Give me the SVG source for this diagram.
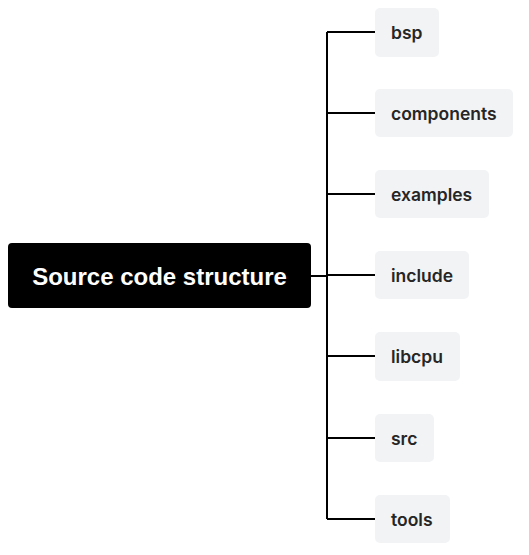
<svg xmlns="http://www.w3.org/2000/svg" width="529" height="555" viewBox="0 0 529 555">
<style>
.leaf rect{fill:#f2f3f5;}
.leaf text{font-family:Inter,"Liberation Sans",sans-serif;font-weight:600;font-size:17.5px;fill:#262626;dominant-baseline:central;}
.conn path{stroke:#000;stroke-width:2;fill:none;}
</style>
<rect width="529" height="555" fill="#fff"/>
<g class="conn">
<path d="M311 276H327M327 32V519M327 32H375M327 113H375M327 194H375M327 275H375M327 356H375M327 438H375M327 519H375"/>
</g>
<g id="root">
<rect x="8" y="243" width="303" height="65" rx="4" fill="#000"/>
<text x="159.5" y="276" text-anchor="middle" dominant-baseline="central" font-family="'Liberation Sans',Arial,sans-serif" font-weight="bold" font-size="24" fill="#fff">Source code structure</text>
</g>
<g id="bsp" class="leaf"><rect x="375" y="8" width="64" height="49" rx="5"/><text x="391" y="32.5">bsp</text></g>
<g id="components" class="leaf"><rect x="375" y="89" width="138" height="48" rx="5"/><text x="391" y="113">components</text></g>
<g id="examples" class="leaf"><rect x="375" y="170" width="114" height="48" rx="5"/><text x="391" y="194">examples</text></g>
<g id="include" class="leaf"><rect x="375" y="251" width="94" height="48" rx="5"/><text x="391" y="275">include</text></g>
<g id="libcpu" class="leaf"><rect x="375" y="332" width="85" height="49" rx="5"/><text x="391" y="356.5">libcpu</text></g>
<g id="src" class="leaf"><rect x="375" y="414" width="59" height="48" rx="5"/><text x="391" y="438">src</text></g>
<g id="tools" class="leaf"><rect x="375" y="495" width="75" height="48" rx="5"/><text x="391" y="519">tools</text></g>
</svg>
